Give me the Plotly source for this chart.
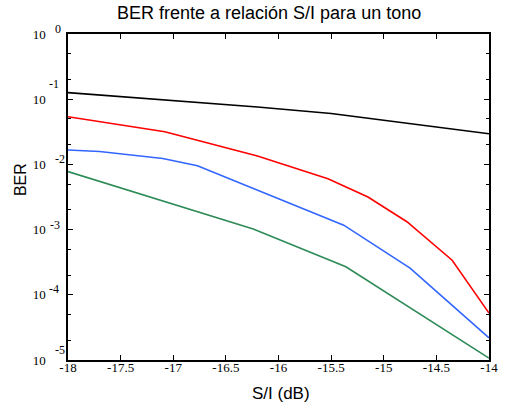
import math
import plotly.graph_objects as go

# S/I (dB) sample points and BER values per curve
x_black = [-18, -17, -16.2, -15.5, -15.1, -14.4, -14]
ber_black = [0.126, 0.0955, 0.0759, 0.0603, 0.0501, 0.0363, 0.0295]

x_red = [-18, -17.08, -16.2, -15.53, -15.15, -14.78, -14.35, -14]
ber_red = [0.0537, 0.0316, 0.0135, 0.00603, 0.00316, 0.00132, 0.000339, 0.0000525]

x_blue = [-18, -17.7, -17.1, -16.77, -15.38, -14.75, -14]
ber_blue = [0.0166, 0.0158, 0.0123, 0.00955, 0.00117, 0.000257, 0.0000219]

x_green = [-18, -16.24, -15.36, -14]
ber_green = [0.00776, 0.00102, 0.000269, 0.0000107]

x_ticks = [-18, -17.5, -17, -16.5, -16, -15.5, -15, -14.5, -14]
x_ticklabels = ["-18", "-17.5", "-17", "-16.5", "-16", "-15.5", "-15", "-14.5", "-14"]
y_ticks = [1, 0.1, 0.01, 0.001, 0.0001, 0.00001]
y_base = ["10"] * 6
y_exponents = ["0", "-1", "-2", "-3", "-4", "-5"]

title_text = "BER frente a relación S/I para un tono"
x_title = "S/I (dB)"
y_title = "BER"

# placement (pixel offsets) of each exponent relative to the axis / tick
exp_xshift = [-15, -21, -15, -20, -21, -15]
exp_yshift = [5, 15, 5, 5, 6, 10]

fig = go.Figure()
series = [
    (x_black, ber_black, "black"),
    (x_red, ber_red, "#ff0000"),
    (x_blue, ber_blue, "#3366ff"),
    (x_green, ber_green, "#2e8b57"),
]
for xs, ys, col in series:
    fig.add_trace(go.Scatter(x=xs, y=ys, mode="lines", line=dict(color=col, width=1.6),
                             showlegend=False, hoverinfo="skip"))

serif = "Liberation Serif, Times New Roman, serif"
sans = "Liberation Sans, Arial, sans-serif"

annotations = [
    dict(text=title_text, xref="paper", yref="paper", x=0.477, y=1.0, yshift=21,
         showarrow=False, font=dict(family=sans, size=18, color="black"), xanchor="center", yanchor="middle"),
    dict(text=x_title, xref="paper", yref="paper", x=0.505, y=0, yshift=-33,
         showarrow=False, font=dict(family=sans, size=17, color="black"), xanchor="center", yanchor="middle"),
    dict(text=y_title, xref="paper", yref="paper", x=0, xshift=-48, y=0.552,
         textangle=-90, showarrow=False, font=dict(family=sans, size=16, color="black"),
         xanchor="center", yanchor="middle"),
]
for v, e, xs_, ys_ in zip(y_ticks, y_exponents, exp_xshift, exp_yshift):
    annotations.append(dict(text=e, xref="paper", yref="y", x=0, y=math.log10(v),
                            xshift=xs_, yshift=ys_, xanchor="left", yanchor="middle",
                            showarrow=False, font=dict(family=serif, size=12, color="black")))

fig.update_layout(
    width=509, height=412,
    margin=dict(l=68, r=11, t=34, b=52),
    paper_bgcolor="white", plot_bgcolor="white",
    showlegend=False,
    annotations=annotations,
)

fig.update_xaxes(
    range=[-18, -14], tickvals=x_ticks, ticktext=x_ticklabels,
    ticks="inside", ticklen=5, tickcolor="black", tickwidth=1,
    showline=True, linecolor="black", linewidth=1.5, mirror="ticks",
    showgrid=False, zeroline=False,
    tickfont=dict(family=serif, size=13, color="black"),
    ticklabelstandoff=-5,
)
fig.update_yaxes(
    type="log", range=[-5, 0], tickvals=y_ticks, ticktext=y_base,
    ticks="inside", ticklen=5, tickcolor="black", tickwidth=1,
    showline=True, linecolor="black", linewidth=1.5, mirror="ticks",
    showgrid=False, zeroline=False,
    minor=dict(ticks="inside", ticklen=3, tickcolor="black", showgrid=False),
    tickfont=dict(family=serif, size=13, color="black"),
    ticklabelstandoff=18,
)

fig.write_html("out.html")
